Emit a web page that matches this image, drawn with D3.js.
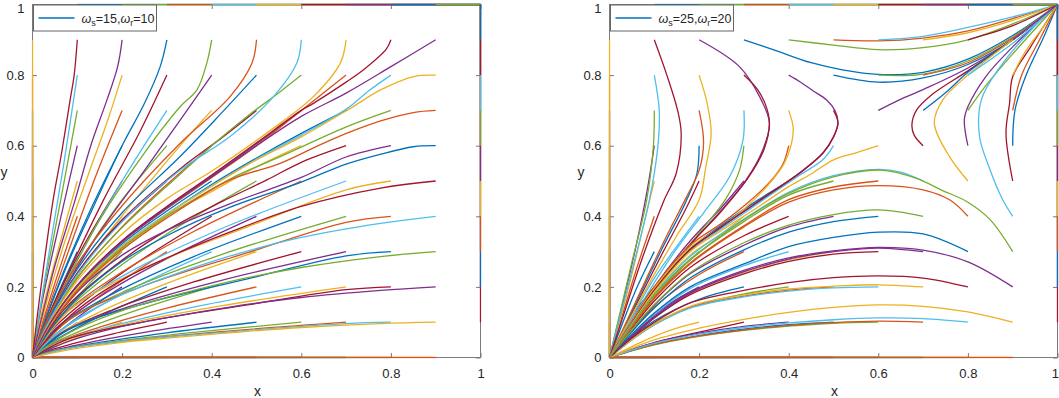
<!DOCTYPE html>
<html>
<head>
<meta charset="utf-8">
<script src="https://cdn.jsdelivr.net/npm/d3@7/dist/d3.min.js"></script>
<style>
  html, body { margin: 0; padding: 0; background: #fff; }
  svg { display: block; font-family: "Liberation Sans", Arial, Helvetica, sans-serif; }
</style>
</head>
<body>
<div id="chart"></div>
<script>
// MATLAB default colour order, cycled over the trajectories in drawing order
const colorOrder = ['#0072BD', '#D95319', '#EDB120', '#7E2F8E', '#77AC30', '#4DBEEE', '#A2142F'];

const tickValues = [0, 0.2, 0.4, 0.6, 0.8, 1];
const tickLabels = ['0', '0.2', '0.4', '0.6', '0.8', '1'];

const legendSubs = ['s', 'r'];
const legendLeftVals = ['15', '10'];
const legendRightVals = ['25', '20'];

// trajectories that start on the border of the square (same in both panels)
const edgeCurves = [
  [[0,.1],[0,0]], [[0,.2],[0,0]], [[0,.3],[0,0]], [[0,.4],[0,0]], [[0,.5],[0,0]],
  [[0,.6],[0,0]], [[0,.7],[0,0]], [[0,.8],[0,0]], [[0,.9],[0,0]],
  [[.1,0],[0,0]], [[.2,0],[0,0]], [[.3,0],[0,0]], [[.4,0],[0,0]], [[.5,0],[0,0]],
  [[.6,0],[0,0]], [[.7,0],[0,0]], [[.8,0],[0,0]], [[.9,0],[0,0]],
  [[1,.1],[1,1]], [[1,.2],[1,1]], [[1,.3],[1,1]], [[1,.4],[1,1]], [[1,.5],[1,1]],
  [[1,.6],[1,1]], [[1,.7],[1,1]], [[1,.8],[1,1]], [[1,.9],[1,1]],
  [[.1,1],[1,1]], [[.2,1],[1,1]], [[.3,1],[1,1]], [[.4,1],[1,1]], [[.5,1],[1,1]],
  [[.6,1],[1,1]], [[.7,1],[1,1]], [[.8,1],[1,1]], [[.9,1],[1,1]]
];

// left panel (ws=15, wr=10): every interior start goes to the origin
const leftCurves = [
  [[.1,.1],[.06,.064],[.03,.035],[.01,.014],[0,0]],
  [[.1,.2],[.06,.13],[.03,.072],[.01,.027],[0,0]],
  [[.1,.3],[.06,.19],[.03,.1],[.01,.036],[0,0]],
  [[.1,.4],[.06,.25],[.03,.13],[.01,.046],[0,0]],
  [[.1,.5],[.06,.318],[.03,.175],[.01,.066],[0,0]],
  [[.1,.6],[.06,.38],[.03,.21],[.01,.08],[0,0]],
  [[.1,.7],[.065,.46],[.035,.26],[.01,.085],[0,0]],
  [[.1,.8],[.07,.55],[.04,.32],[.012,.1],[0,0]],
  [[.1,.9],[.093,.8],[.084,.73],[.065,.58],[.046,.446],[.025,.26],[.01,.11],[0,0]],

  [[.2,.1],[.12,.066],[.06,.037],[.02,.015],[0,0]],
  [[.2,.2],[.12,.132],[.06,.074],[.02,.03],[0,0]],
  [[.2,.3],[.12,.2],[.06,.112],[.02,.045],[0,0]],
  [[.2,.4],[.12,.27],[.06,.152],[.02,.06],[0,0]],
  [[.2,.5],[.12,.33],[.06,.185],[.02,.07],[0,0]],
  [[.2,.6],[.13,.42],[.07,.245],[.025,.095],[0,0]],
  [[.2,.7],[.14,.51],[.08,.3],[.03,.12],[0,0]],
  [[.2,.8],[.17,.68],[.125,.52],[.07,.32],[.025,.125],[0,0]],
  [[.2,.9],[.19,.824],[.166,.729],[.13,.6],[.095,.446],[.05,.26],[.018,.1],[0,0]],

  [[.3,.1],[.18,.067],[.09,.039],[.03,.017],[0,0]],
  [[.3,.2],[.18,.134],[.09,.078],[.03,.033],[0,0]],
  [[.3,.3],[.18,.201],[.09,.117],[.03,.05],[0,0]],
  [[.3,.4],[.18,.283],[.09,.17],[.03,.072],[0,0]],
  [[.3,.5],[.18,.36],[.09,.22],[.03,.09],[0,0]],
  [[.3,.6],[.19,.43],[.1,.26],[.035,.11],[0,0]],
  [[.3,.7],[.2,.5],[.11,.3],[.04,.125],[0,0]],
  [[.3,.8],[.24,.64],[.16,.45],[.08,.24],[.025,.085],[0,0]],
  [[.3,.9],[.285,.824],[.25,.72],[.2,.6],[.143,.446],[.08,.27],[.03,.11],[0,0]],

  [[.4,.1],[.24,.069],[.12,.041],[.04,.018],[0,0]],
  [[.4,.2],[.24,.137],[.12,.082],[.04,.036],[0,0]],
  [[.4,.3],[.24,.206],[.12,.123],[.04,.055],[0,0]],
  [[.4,.4],[.24,.274],[.12,.164],[.04,.073],[0,0]],
  [[.4,.5],[.3,.415],[.2,.322],[.1,.2],[.04,.095],[0,0]],
  [[.4,.6],[.3,.49],[.2,.37],[.1,.225],[.04,.105],[0,0]],
  [[.4,.7],[.35,.63],[.25,.48],[.15,.32],[.07,.175],[.025,.072],[0,0]],
  [[.4,.8],[.33,.673],[.25,.53],[.15,.355],[.07,.19],[.025,.075],[0,0]],
  [[.4,.9],[.389,.834],[.367,.758],[.33,.711],[.25,.58],[.15,.39],[.07,.2],[.025,.08],[0,0]],

  [[.5,.1],[.3,.07],[.15,.043],[.05,.02],[0,0]],
  [[.5,.2],[.3,.14],[.15,.086],[.05,.04],[0,0]],
  [[.5,.3],[.3,.21],[.15,.129],[.05,.06],[0,0]],
  [[.5,.4],[.3,.28],[.15,.172],[.05,.08],[0,0]],
  [[.5,.5],[.3,.35],[.15,.215],[.05,.1],[0,0]],
  [[.5,.6],[.4,.51],[.3,.422],[.2,.327],[.1,.202],[.04,.096],[0,0]],
  [[.5,.7],[.42,.62],[.33,.535],[.2,.39],[.1,.24],[.04,.112],[0,0]],
  [[.5,.8],[.42,.69],[.33,.57],[.2,.41],[.1,.25],[.04,.118],[0,0]],
  [[.5,.9],[.49,.834],[.441,.739],[.33,.607],[.2,.43],[.1,.265],[.04,.125],[0,0]],

  [[.6,.1],[.36,.071],[.18,.045],[.06,.022],[0,0]],
  [[.6,.2],[.36,.143],[.18,.09],[.06,.044],[0,0]],
  [[.6,.3],[.36,.214],[.18,.136],[.06,.066],[0,0]],
  [[.6,.4],[.36,.286],[.18,.181],[.06,.088],[0,0]],
  [[.6,.5],[.36,.357],[.18,.226],[.06,.11],[0,0]],
  [[.6,.6],[.5,.54],[.4,.47],[.3,.402],[.18,.29],[.06,.13],[0,0]],
  [[.6,.7],[.5,.605],[.4,.514],[.3,.427],[.2,.33],[.1,.204],[.04,.097],[0,0]],
  [[.6,.8],[.55,.75],[.479,.683],[.4,.6],[.33,.52],[.2,.368],[.1,.226],[.04,.106],[0,0]],
  [[.6,.9],[.59,.834],[.538,.739],[.441,.626],[.33,.531],[.2,.385],[.1,.235],[.04,.11],[0,0]],

  [[.7,.1],[.42,.073],[.21,.047],[.07,.024],[0,0]],
  [[.7,.2],[.42,.146],[.21,.095],[.07,.048],[0,0]],
  [[.7,.3],[.42,.218],[.21,.142],[.07,.072],[0,0]],
  [[.7,.4],[.42,.291],[.21,.19],[.07,.096],[0,0]],
  [[.7,.5],[.42,.364],[.21,.237],[.07,.12],[0,0]],
  [[.7,.6],[.6,.553],[.523,.503],[.42,.44],[.3,.36],[.21,.285],[.07,.135],[0,0]],
  [[.7,.7],[.6,.635],[.5,.565],[.4,.49],[.3,.405],[.2,.314],[.1,.196],[.04,.094],[0,0]],
  [[.7,.8],[.65,.75],[.6,.7],[.5,.6],[.4,.51],[.3,.422],[.2,.327],[.1,.202],[.04,.096],[0,0]],
  [[.7,.9],[.687,.834],[.627,.739],[.553,.664],[.404,.531],[.3,.45],[.2,.35],[.1,.218],[.04,.103],[0,0]],

  [[.8,.1],[.7,.096],[.48,.077],[.24,.051],[.08,.026],[0,0]],
  [[.8,.2],[.7,.192],[.48,.149],[.24,.099],[.08,.053],[0,0]],
  [[.8,.3],[.7,.288],[.48,.223],[.24,.149],[.08,.079],[0,0]],
  [[.8,.4],[.7,.383],[.48,.297],[.24,.199],[.08,.105],[0,0]],
  [[.8,.5],[.7,.475],[.48,.37],[.24,.248],[.08,.131],[0,0]],
  [[.8,.6],[.7,.568],[.6,.51],[.44,.435],[.3,.36],[.2,.29],[.1,.186],[.04,.09],[0,0]],
  [[.8,.7],[.702,.654],[.553,.569],[.44,.505],[.3,.4],[.2,.31],[.1,.194],[.04,.093],[0,0]],
  [[.8,.8],[.75,.755],[.702,.705],[.6,.63],[.5,.562],[.4,.487],[.3,.407],[.2,.317],[.1,.198],[.04,.095],[0,0]],
  [[.8,.9],[.79,.874],[.739,.815],[.7,.78],[.627,.72],[.6,.7],[.5,.608],[.4,.517],[.3,.428],[.2,.331],[.1,.205],[.04,.098],[0,0]],

  [[.9,.1],[.777,.096],[.6,.085],[.44,.07],[.3,.055],[.2,.043],[.1,.026],[.04,.012],[0,0]],
  [[.9,.2],[.777,.19],[.6,.17],[.44,.143],[.3,.113],[.2,.088],[.1,.054],[.04,.025],[0,0]],
  [[.9,.3],[.777,.286],[.6,.255],[.44,.215],[.3,.17],[.2,.133],[.1,.082],[.04,.038],[0,0]],
  [[.9,.4],[.777,.38],[.6,.34],[.44,.287],[.3,.228],[.2,.178],[.1,.11],[.04,.051],[0,0]],
  [[.9,.5],[.777,.48],[.6,.428],[.44,.355],[.3,.282],[.2,.22],[.1,.135],[.04,.062],[0,0]],
  [[.9,.6],[.85,.597],[.777,.576],[.7,.548],[.6,.497],[.44,.425],[.3,.345],[.2,.272],[.1,.168],[.04,.079],[0,0]],
  [[.9,.7],[.85,.694],[.777,.67],[.665,.616],[.553,.55],[.441,.503],[.3,.395],[.2,.305],[.1,.19],[.04,.091],[0,0]],
  [[.9,.8],[.851,.796],[.777,.758],[.702,.7],[.6,.625],[.5,.56],[.4,.485],[.3,.405],[.2,.315],[.1,.197],[.04,.094],[0,0]],
  [[.9,.9],[.8,.824],[.7,.749],[.6,.683],[.5,.6],[.4,.512],[.3,.424],[.2,.328],[.1,.203],[.04,.097],[0,0]]
];

// right panel (ws=25, wr=20): saddle near (0.6, 0.66), sinks at (0,0) and (1,1)
const rightCurves = [
  [[.1,.1],[.06,.068],[.03,.036],[0,0]],
  [[.1,.2],[.06,.135],[.03,.07],[0,0]],
  [[.1,.3],[.06,.195],[.03,.1],[0,0]],
  [[.1,.4],[.06,.25],[.03,.125],[0,0]],
  [[.1,.5],[.075,.37],[.05,.235],[.025,.115],[0,0]],
  [[.1,.6],[.085,.48],[.06,.32],[.03,.155],[0,0]],
  [[.1,.7],[.098,.6],[.083,.446],[.05,.27],[.025,.135],[0,0]],
  [[.1,.8],[.111,.7],[.108,.598],[.089,.446],[.05,.245],[.025,.122],[0,0]],
  [[.1,.9],[.128,.8],[.152,.7],[.16,.635],[.149,.522],[.12,.44],[.07,.27],[.03,.115],[0,0]],

  [[.2,.1],[.15,.083],[.1,.06],[.05,.031],[0,0]],
  [[.2,.2],[.15,.165],[.1,.122],[.05,.064],[0,0]],
  [[.2,.3],[.15,.24],[.1,.17],[.05,.088],[0,0]],
  [[.2,.4],[.15,.315],[.1,.225],[.05,.115],[0,0]],
  [[.2,.5],[.17,.42],[.12,.3],[.06,.15],[.03,.073],[0,0]],
  [[.2,.6],[.195,.52],[.17,.44],[.12,.315],[.06,.157],[.03,.077],[0,0]],
  [[.2,.7],[.21,.61],[.2,.53],[.17,.45],[.12,.325],[.06,.162],[.03,.08],[0,0]],
  [[.2,.8],[.218,.72],[.227,.635],[.215,.54],[.2,.446],[.15,.345],[.08,.19],[.03,.072],[0,0]],
  [[.2,.9],[.29,.824],[.335,.739],[.357,.664],[.342,.588],[.305,.503],[.245,.41],[.18,.32],[.1,.195],[.05,.1],[0,0]],

  [[.3,.1],[.2,.072],[.1,.042],[0,0]],
  [[.3,.2],[.2,.165],[.1,.104],[.05,.056],[0,0]],
  [[.3,.3],[.2,.235],[.1,.143],[.05,.075],[0,0]],
  [[.3,.4],[.25,.35],[.18,.29],[.1,.182],[.05,.094],[0,0]],
  [[.3,.5],[.25,.425],[.18,.33],[.1,.2],[.05,.103],[0,0]],
  [[.3,.6],[.29,.53],[.26,.45],[.205,.36],[.125,.235],[.06,.122],[0,0]],
  [[.3,.7],[.298,.616],[.268,.512],[.21,.41],[.14,.29],[.07,.15],[0,0]],
  [[.3,.8],[.331,.758],[.35,.71],[.357,.664],[.345,.59],[.31,.51],[.25,.415],[.18,.32],[.1,.195],[.05,.1],[0,0]],
  [[.3,.9],[.37,.87],[.45,.835],[.52,.815],[.6,.802],[.7,.808],[.8,.845],[.9,.912],[1,1]],

  [[.4,.1],[.3,.088],[.2,.069],[.1,.042],[0,0]],
  [[.4,.2],[.3,.18],[.2,.15],[.1,.097],[.05,.052],[0,0]],
  [[.4,.3],[.3,.26],[.18,.195],[.1,.122],[.05,.064],[0,0]],
  [[.4,.4],[.3,.345],[.18,.255],[.1,.16],[.05,.083],[0,0]],
  [[.4,.5],[.33,.445],[.25,.375],[.18,.308],[.1,.192],[.05,.099],[0,0]],
  [[.4,.6],[.388,.55],[.36,.5],[.31,.44],[.25,.38],[.18,.318],[.1,.2],[.05,.103],[0,0]],
  [[.4,.7],[.41,.65],[.405,.6],[.39,.55],[.355,.49],[.3,.42],[.24,.362],[.18,.312],[.1,.196],[.05,.1],[0,0]],
  [[.4,.8],[.424,.782],[.455,.755],[.484,.73],[.503,.7],[.51,.665],[.5,.625],[.477,.58],[.43,.528],[.33,.44],[.25,.37],[.18,.305],[.1,.19],[.05,.098],[0,0]],
  [[.4,.9],[.5,.885],[.6,.872],[.7,.878],[.8,.9],[.9,.945],[1,1]],

  [[.5,.1],[.4,.093],[.3,.08],[.2,.062],[.1,.037],[0,0]],
  [[.5,.2],[.4,.191],[.3,.174],[.18,.142],[.1,.093],[.05,.05],[0,0]],
  [[.5,.3],[.4,.277],[.3,.241],[.18,.181],[.1,.113],[.05,.059],[0,0]],
  [[.5,.4],[.4,.37],[.3,.318],[.18,.237],[.1,.148],[.05,.077],[0,0]],
  [[.5,.5],[.4,.46],[.3,.385],[.18,.278],[.1,.176],[.05,.091],[0,0]],
  [[.5,.6],[.476,.56],[.42,.513],[.33,.435],[.25,.365],[.18,.302],[.1,.188],[.05,.097],[0,0]],
  [[.5,.7],[.51,.665],[.5,.625],[.477,.58],[.43,.528],[.33,.44],[.25,.37],[.18,.305],[.1,.19],[.05,.098],[0,0]],
  [[.5,.8],[.6,.78],[.7,.792],[.8,.83],[.9,.9],[1,1]],
  [[.5,.9],[.6,.897],[.7,.905],[.8,.925],[.9,.96],[1,1]],

  [[.6,.1],[.5,.097],[.4,.089],[.3,.077],[.2,.06],[.1,.036],[0,0]],
  [[.6,.2],[.5,.197],[.4,.188],[.3,.172],[.18,.14],[.1,.092],[.05,.05],[0,0]],
  [[.6,.3],[.5,.293],[.4,.272],[.3,.237],[.18,.178],[.1,.112],[.05,.058],[0,0]],
  [[.6,.4],[.5,.385],[.4,.355],[.3,.305],[.18,.225],[.1,.14],[.05,.073],[0,0]],
  [[.6,.5],[.5,.483],[.4,.447],[.3,.373],[.18,.268],[.1,.17],[.05,.087],[0,0]],
  [[.6,.6],[.55,.58],[.5,.56],[.45,.52],[.4,.484],[.33,.425],[.25,.36],[.18,.3],[.1,.186],[.05,.096],[0,0]],
  [[.6,.7],[.647,.73],[.7,.759],[.8,.82],[.9,.9],[1,1]],
  [[.6,.8],[.7,.803],[.8,.84],[.9,.908],[1,1]],
  [[.6,.9],[.7,.91],[.8,.935],[.9,.965],[1,1]],

  [[.7,.1],[.6,.103],[.5,.099],[.4,.091],[.3,.078],[.2,.061],[.1,.037],[0,0]],
  [[.7,.2],[.6,.206],[.5,.202],[.4,.194],[.3,.177],[.18,.145],[.1,.095],[.05,.052],[0,0]],
  [[.7,.3],[.6,.31],[.5,.3],[.4,.279],[.3,.243],[.18,.182],[.1,.114],[.05,.06],[0,0]],
  [[.7,.4],[.6,.418],[.5,.405],[.4,.375],[.3,.325],[.18,.24],[.1,.15],[.05,.078],[0,0]],
  [[.7,.5],[.65,.525],[.6,.533],[.5,.515],[.4,.468],[.3,.392],[.18,.286],[.1,.179],[.05,.093],[0,0]],
  [[.7,.6],[.68,.63],[.675,.659],[.685,.7],[.72,.745],[.8,.812],[.9,.9],[1,1]],
  [[.7,.7],[.75,.75],[.8,.808],[.9,.9],[1,1]],
  [[.7,.8],[.8,.835],[.9,.905],[1,1]],
  [[.7,.9],[.8,.92],[.9,.955],[1,1]],

  [[.8,.1],[.7,.11],[.6,.112],[.5,.107],[.4,.098],[.3,.085],[.2,.066],[.1,.04],[0,0]],
  [[.8,.2],[.7,.225],[.6,.231],[.5,.226],[.4,.212],[.3,.19],[.18,.155],[.1,.1],[.05,.055],[0,0]],
  [[.8,.3],[.7,.35],[.6,.355],[.5,.34],[.4,.314],[.3,.265],[.18,.2],[.1,.126],[.05,.066],[0,0]],
  [[.8,.4],[.76,.446],[.7,.475],[.6,.487],[.5,.475],[.4,.44],[.3,.37],[.18,.265],[.1,.167],[.05,.086],[0,0]],
  [[.8,.5],[.759,.569],[.725,.664],[.744,.73],[.8,.8],[.9,.9],[1,1]],
  [[.8,.6],[.792,.673],[.8,.71],[.84,.796],[.9,.88],[1,1]],
  [[.8,.7],[.84,.77],[.9,.86],[1,1]],
  [[.8,.8],[.9,.89],[1,1]],
  [[.8,.9],[.9,.94],[1,1]],

  [[.9,.1],[.8,.129],[.7,.145],[.6,.149],[.5,.142],[.4,.128],[.3,.108],[.2,.083],[.1,.05],[0,0]],
  [[.9,.2],[.8,.271],[.7,.304],[.6,.312],[.5,.302],[.4,.282],[.3,.247],[.18,.185],[.1,.117],[.05,.061],[0,0]],
  [[.9,.3],[.85,.39],[.8,.44],[.74,.475],[.684,.508],[.606,.531],[.5,.512],[.4,.465],[.3,.39],[.2,.297],[.1,.178],[.05,.092],[0,0]],
  [[.9,.4],[.878,.446],[.85,.53],[.826,.626],[.83,.73],[.87,.82],[.95,.94],[1,1]],
  [[.9,.5],[.885,.635],[.893,.72],[.9,.796],[.94,.88],[1,1]],
  [[.9,.6],[.905,.7],[.93,.8],[.97,.91],[1,1]],
  [[.9,.7],[.92,.8],[.96,.9],[1,1]],
  [[.9,.8],[.93,.87],[.97,.94],[1,1]],
  [[.9,.9],[.95,.95],[1,1]]
];

const width = 1059, height = 398;
const plotTop = 4.5, plotBottom = 357.5, plotWidth = 448;
const axisColor = '#7a7a7a', textColor = '#262626';

const svg = d3.select('#chart').append('svg')
  .attr('width', width)
  .attr('height', height);

// start point on the 0..10 grid gives the MATLAB plotting index -> colour
function startIndex(curve) {
  const i = Math.round(curve[0][0] * 10);
  const j = Math.round(curve[0][1] * 10);
  return i * 11 + j;
}

function drawPanel(left, curves, legendVals, id) {
  const x = d3.scaleLinear().domain([0, 1]).range([left, left + plotWidth]);
  const y = d3.scaleLinear().domain([0, 1]).range([plotBottom, plotTop]);
  const g = svg.append('g');

  g.append('clipPath').attr('id', 'clip' + id)
    .append('rect')
    .attr('x', left - 1).attr('y', plotTop - 1)
    .attr('width', plotWidth + 2).attr('height', plotBottom - plotTop + 2);

  // box
  g.append('rect')
    .attr('x', left).attr('y', plotTop)
    .attr('width', plotWidth).attr('height', plotBottom - plotTop)
    .attr('fill', 'none')
    .attr('stroke', axisColor)
    .attr('stroke-width', 1);

  // inward ticks on all four sides, labels bottom and left
  const tickLen = 4.5;
  const fmt = (d, i) => tickLabels[i];
  const axes = [
    [d3.axisBottom(x).tickFormat(fmt).tickPadding(11), `translate(0,${plotBottom})`, 'b'],
    [d3.axisTop(x).tickFormat(''), `translate(0,${plotTop})`, 't'],
    [d3.axisLeft(y).tickFormat(fmt).tickPadding(8), `translate(${left},0)`, 'l'],
    [d3.axisRight(y).tickFormat(''), `translate(${left + plotWidth},0)`, 'r']
  ];
  axes.forEach(([ax, tr, side]) => {
    const a = g.append('g')
      .attr('transform', tr)
      .call(ax.tickValues(tickValues).tickSizeInner(-tickLen).tickSizeOuter(0));
    a.select('.domain').remove();
    a.selectAll('.tick line').attr('stroke', axisColor);
    a.selectAll('.tick text')
      .attr('fill', textColor)
      .style('font-size', '13px')
      .style('font-family', '"Liberation Sans", Arial, sans-serif');
    // keep the corner "1" labels inside the picture
    if (side === 'l') a.selectAll('.tick text').filter(d => d === 1).attr('dy', '0.58em');
    if (side === 'b' && left + plotWidth > width - 4) {
      a.selectAll('.tick text').filter(d => d === 1)
        .attr('text-anchor', 'end')
        .attr('x', width - 0.5 - (left + plotWidth));
    }
  });

  // trajectories, drawn in MATLAB loop order
  const all = curves.concat(edgeCurves)
    .map(c => ({ pts: c, k: startIndex(c) }))
    .sort((a, b) => a.k - b.k);

  const line = d3.line()
    .x(d => x(d[0]))
    .y(d => y(d[1]))
    .curve(d3.curveCatmullRom.alpha(0.5));

  g.append('g')
    .attr('clip-path', `url(#clip${id})`)
    .selectAll('path.traj')
    .data(all)
    .join('path')
    .classed('traj', true)
    .attr('d', d => line(d.pts))
    .attr('fill', 'none')
    .attr('stroke', d => colorOrder[d.k % 7])
    .attr('stroke-width', 1.3)
    .attr('stroke-linejoin', 'round');

  // axis labels
  g.append('text')
    .attr('x', left + plotWidth / 2 + 1)
    .attr('y', 396)
    .attr('text-anchor', 'middle')
    .attr('fill', textColor)
    .style('font-size', '14px')
    .text('x');
  g.append('text')
    .attr('x', left - 28.5)
    .attr('y', 176.5)
    .attr('text-anchor', 'middle')
    .attr('fill', textColor)
    .style('font-size', '14px')
    .text('y');

  // legend
  const lx = left + 1, ly = plotTop + 0.5;
  const lg = g.append('g');
  lg.append('rect')
    .attr('x', lx).attr('y', ly)
    .attr('width', 123).attr('height', 26)
    .attr('fill', '#fff')
    .attr('stroke', '#666')
    .attr('stroke-width', 1);
  lg.append('line')
    .attr('x1', lx + 5).attr('x2', lx + 41)
    .attr('y1', ly + 13).attr('y2', ly + 13)
    .attr('stroke', colorOrder[0])
    .attr('stroke-width', 1.3);
  const t = lg.append('text')
    .attr('x', lx + 48)
    .attr('y', ly + 17.5)
    .attr('fill', textColor)
    .style('font-size', '12.5px');
  legendSubs.forEach((s, i) => {
    t.append('tspan').style('font-style', 'italic').text('\u03c9');
    t.append('tspan').attr('dy', 3.5).style('font-size', '9px').text(s);
    t.append('tspan').attr('dy', -3.5).text('=' + legendVals[i] + (i === 0 ? ',' : ''));
  });
}

drawPanel(32.5, leftCurves, legendLeftVals, 'L');
drawPanel(609.5, rightCurves, legendRightVals, 'R');
</script>
</body>
</html>
